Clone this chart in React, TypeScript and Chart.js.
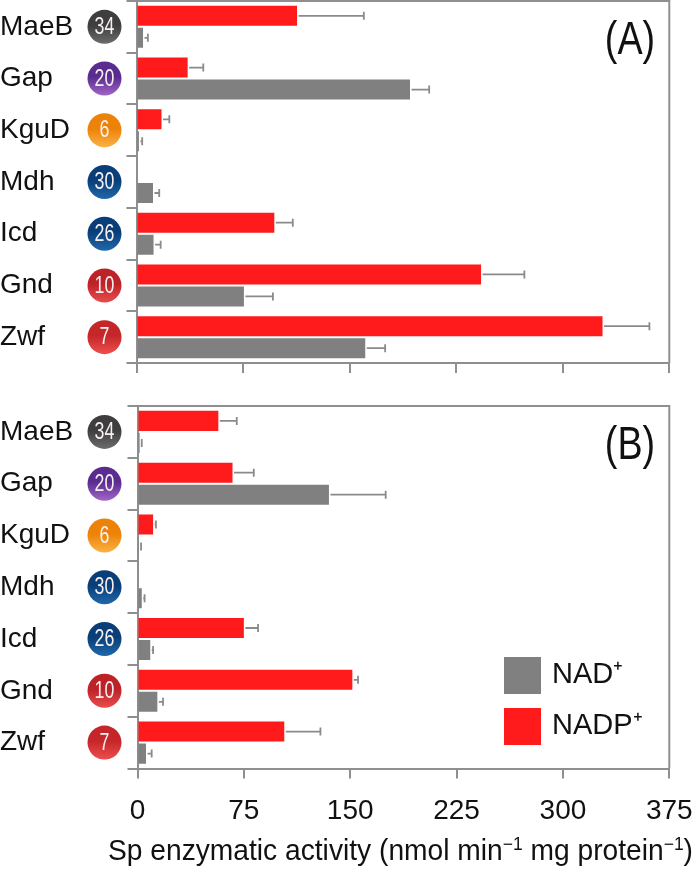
import React, { useEffect, useRef } from "react";
import { Chart, registerables } from "chart.js";

Chart.register(...registerables);

const enzymes = ["MaeB", "Gap", "KguD", "Mdh", "Icd", "Gnd", "Zwf"];
const badgeNumbers = ["34", "20", "6", "30", "26", "10", "7"];
const badgeDark = ["#3e3e3e", "#5a2c90", "#ec8208", "#0a3e78", "#0a3e78", "#bd2228", "#c4262a"];
const badgeLight = ["#6c6c6c", "#a066c6", "#fbb244", "#2068aa", "#2068aa", "#ea4c4c", "#ee4e4e"];
const xTicks = [0, 75, 150, 225, 300, 375];
const axisTitleParts = [
  { text: "Sp enzymatic activity (nmol min", sup: false },
  { text: "−1", sup: true },
  { text: " mg protein", sup: false },
  { text: "−1", sup: true },
  { text: ")", sup: false },
];

const nadpA = [113, 36, 17.6, 0, 97, 242.5, 328];
const nadpErrA = [47, 11, 5.5, 0, 13, 30.5, 33];
const nadA = [4.6, 192.5, 1.7, 11.6, 12, 75.6, 161];
const nadErrA = [3.4, 13.5, 2.3, 4.4, 5, 20.4, 14];

const nadpB = [57, 67, 11, 0, 75, 151.5, 103.5];
const nadpErrB = [13, 15, 2, 0, 10, 4, 25.5];
const nadB = [1.5, 135, 1, 3, 9, 14, 6];
const nadErrB = [1.5, 40, 1.5, 2, 2, 4, 4];

const RED = "#ff1a1c";
const GRAY = "#808080";
const AXIS = "#8f8f8f";
const INK = "#111111";
const FONT = "'Liberation Sans', Arial, sans-serif";

function squeezedText(ctx: any, text: string, x: number, y: number, sx: number) {
  ctx.save();
  ctx.translate(x, y);
  ctx.scale(sx, 1);
  ctx.textAlign = "center";
  ctx.textBaseline = "middle";
  ctx.fillText(text, 0, 0);
  ctx.restore();
}

function drawAxisTitle(ctx: any, left: number, right: number, baseline: number) {
  const mainFont = `29px ${FONT}`;
  const supFont = `18px ${FONT}`;
  let total = 0;
  axisTitleParts.forEach((p) => {
    ctx.font = p.sup ? supFont : mainFont;
    total += ctx.measureText(p.text).width;
  });
  ctx.save();
  ctx.translate(left, baseline);
  ctx.scale((right - left) / total, 1);
  ctx.fillStyle = INK;
  ctx.textAlign = "left";
  ctx.textBaseline = "alphabetic";
  let cur = 0;
  axisTitleParts.forEach((p) => {
    ctx.font = p.sup ? supFont : mainFont;
    ctx.fillText(p.text, cur, p.sup ? -10 : 0);
    cur += ctx.measureText(p.text).width;
  });
  ctx.restore();
}

function makeConfig(opts: any) {
  const { nadp, nadpErr, nad, nadErr, letter, isBottom, plotTop, plotH, plotLeft, canvasH } = opts;
  const overlay = {
    id: "overlay",
    afterDatasetsDraw(chart: any) {
      const { ctx, chartArea: a, scales } = chart;
      const x = scales.x;
      const y = scales.y;
      ctx.save();
      ctx.strokeStyle = AXIS;
      ctx.lineWidth = 2;
      ctx.beginPath();
      ctx.moveTo(a.left, a.top);
      ctx.lineTo(a.right, a.top);
      ctx.lineTo(a.right, a.bottom);
      ctx.stroke();
      chart.data.datasets.forEach((ds: any, di: number) => {
        const meta = chart.getDatasetMeta(di);
        ds.errors.forEach((e: number, i: number) => {
          if (!e) return;
          const v = ds.data[i];
          const px = x.getPixelForValue(v + e);
          const p0 = x.getPixelForValue(v);
          const py = meta.data[i].y;
          ctx.lineWidth = 1.8;
          ctx.strokeStyle = "#8a8a8a";
          ctx.beginPath();
          ctx.moveTo(p0 + 1.5, py);
          ctx.lineTo(px, py);
          ctx.moveTo(px, py - 4);
          ctx.lineTo(px, py + 4);
          ctx.stroke();
        });
      });
      enzymes.forEach((_, i) => {
        const cy = y.getPixelForValue(i);
        const cx = 104.5;
        const r = 17;
        const g = ctx.createLinearGradient(0, cy - r, 0, cy + r);
        g.addColorStop(0, badgeDark[i]);
        g.addColorStop(0.45, badgeDark[i]);
        g.addColorStop(1, badgeLight[i]);
        ctx.fillStyle = g;
        ctx.beginPath();
        ctx.arc(cx, cy, r, 0, Math.PI * 2);
        ctx.fill();
        ctx.fillStyle = "#f6f0f0";
        ctx.font = "24px 'Liberation Sans', sans-serif";
        squeezedText(ctx, badgeNumbers[i], cx, cy + 0.5, 0.74);
      });
      ctx.fillStyle = INK;
      ctx.font = `46px ${FONT}`;
      squeezedText(ctx, letter, 630, plotTop + 40, 0.82);
      if (isBottom) {
        const rows = [chart.data.datasets[1], chart.data.datasets[0]];
        rows.forEach((ds: any, i: number) => {
          const top = 257 + i * 51;
          ctx.fillStyle = ds.backgroundColor;
          ctx.fillRect(504, top, 37, 37);
          ctx.fillStyle = INK;
          ctx.font = `29px ${FONT}`;
          ctx.textAlign = "left";
          ctx.textBaseline = "middle";
          ctx.fillText(ds.label, 552, top + 18);
        });
        drawAxisTitle(ctx, 108, 693, 460);
      }
      ctx.restore();
    },
  };
  return {
    type: "bar",
    data: {
      labels: enzymes,
      datasets: [
        { label: "NADP⁺", data: nadp, errors: nadpErr, backgroundColor: RED },
        { label: "NAD⁺", data: nad, errors: nadErr, backgroundColor: GRAY },
      ],
    },
    plugins: [overlay],
    options: {
      indexAxis: "y",
      responsive: false,
      animation: false,
      events: [],
      layout: { padding: { top: plotTop, right: 23.7, left: 0, bottom: 0 } },
      datasets: { bar: { categoryPercentage: 0.851, barPercentage: 0.909 } },
      plugins: { legend: { display: false }, tooltip: { enabled: false }, title: { display: false } },
      scales: {
        x: {
          type: "linear",
          min: 0,
          max: 375,
          afterBuildTicks(s: any) {
            s.ticks = xTicks.map((value) => ({ value }));
          },
          afterFit(s: any) {
            s.height = canvasH - plotTop - plotH;
            s.paddingLeft = 0;
            s.paddingRight = 0;
          },
          border: { color: AXIS, width: 2 },
          grid: { drawOnChartArea: false, drawTicks: true, tickLength: 10, color: AXIS, lineWidth: 2 },
          ticks: {
            display: isBottom,
            autoSkip: false,
            maxRotation: 0,
            padding: 16,
            color: INK,
            font: { family: FONT, size: 28 },
          },
        },
        y: {
          type: "category",
          afterFit(s: any) {
            s.width = plotLeft;
            s.paddingTop = 0;
            s.paddingBottom = 0;
          },
          border: { color: AXIS, width: 2 },
          grid: { offset: true, drawOnChartArea: false, drawTicks: true, tickLength: 10, color: AXIS, lineWidth: 2 },
          ticks: {
            crossAlign: "far",
            autoSkip: false,
            color: INK,
            font: { family: FONT, size: 28 },
          },
        },
      },
    },
  };
}

function Panel({ top, height, cfg }: any) {
  const ref = useRef<HTMLCanvasElement>(null);
  useEffect(() => {
    const chart = new Chart(ref.current as any, makeConfig(cfg) as any);
    return () => chart.destroy();
  }, []);
  return (
    <canvas
      ref={ref}
      width={693}
      height={height}
      style={{ position: "absolute", left: 0, top, width: 693, height, display: "block" }}
    />
  );
}

export default function App() {
  return (
    <div style={{ position: "absolute", left: 0, top: 0, width: 693, height: 872, overflow: "hidden", background: "#fff" }}>
      <Panel
        top={0}
        height={380}
        cfg={{ nadp: nadpA, nadpErr: nadpErrA, nad: nadA, nadErr: nadErrA, letter: "(A)", isBottom: false, plotTop: 1, plotH: 362, plotLeft: 136.5, canvasH: 380 }}
      />
      <Panel
        top={400}
        height={472}
        cfg={{ nadp: nadpB, nadpErr: nadpErrB, nad: nadB, nadErr: nadErrB, letter: "(B)", isBottom: true, plotTop: 6, plotH: 362.5, plotLeft: 137.5, canvasH: 472 }}
      />
    </div>
  );
}
